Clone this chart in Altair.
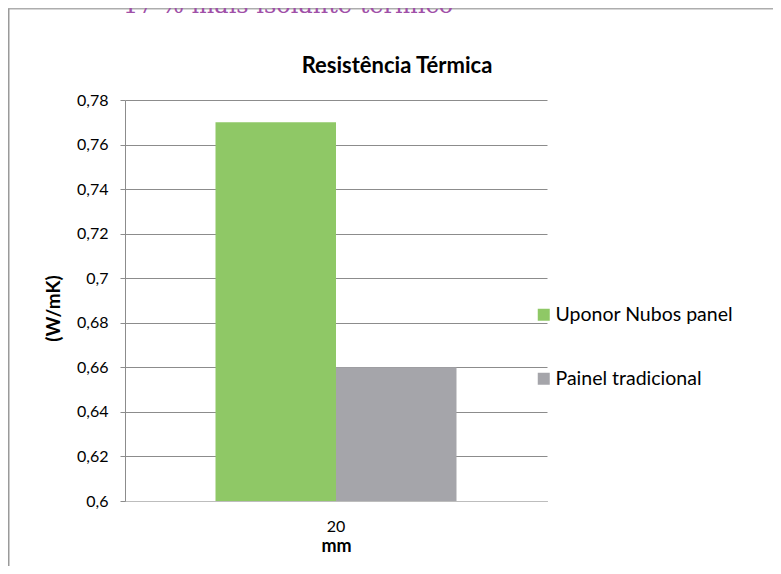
import altair as alt
import pandas as pd

# Data
espessura = ["20"]
series = ["Uponor Nubos panel", "Painel tradicional"]
valores = [0.77, 0.66]
cores = ["#8FC866", "#A5A5AA"]
y_ticks = [0.6, 0.62, 0.64, 0.66, 0.68, 0.7, 0.72, 0.74, 0.76, 0.78]
y_min, y_max = 0.6, 0.78
titulo = "Resistência Térmica"
cabecalho = "17 % mais isolante térmico"

df = pd.DataFrame({
    "espessura": espessura * len(series),
    "serie": series,
    "valor": valores,
})

W, H = 422, 401
PL, PT = 117, 92
TOTAL_W, TOTAL_H = 765, 558

font = "Lato"

bars = alt.Chart(df).mark_bar().encode(
    x=alt.X("espessura:N",
            scale=alt.Scale(paddingInner=0, paddingOuter=0.3755),
            axis=alt.Axis(title="mm", labelAngle=0, ticks=False,
                          domainColor="#BDBDBD", labelFont=font, labelFontSize=16,
                          labelColor="#000000", labelPadding=17,
                          titleFont=font, titleFontSize=18, titleFontWeight="bold",
                          titleColor="#000000", titleY=45, titleBaseline="middle")),
    xOffset=alt.XOffset("serie:N", sort=series,
                        scale=alt.Scale(paddingInner=0, paddingOuter=0)),
    y=alt.Y("valor:Q",
            scale=alt.Scale(domain=[y_min, y_max], nice=False, zero=False),
            axis=alt.Axis(title="(W/mK)", values=y_ticks,
                          labelExpr="replace(format(datum.value, '.2~f'), '.', ',')",
                          grid=True, gridColor="#8C8C8C", domainColor="#8C8C8C",
                          tickColor="#8C8C8C", tickSize=5, labelPadding=12,
                          labelFont=font, labelFontSize=16, labelColor="#000000",
                          titleFont=font, titleFontSize=19, titleFontWeight="bold",
                          titleColor="#000000", titleX=-72, titleY=208,
                          titleAlign="center", titleBaseline="middle")),
    y2=alt.datum(y_min),
    color=alt.Color("serie:N", sort=series,
                    scale=alt.Scale(domain=series, range=cores),
                    legend=alt.Legend(title=None, orient="none", legendX=409, legendY=205,
                                      symbolType="square", symbolSize=144,
                                      symbolStrokeWidth=0, rowPadding=43,
                                      labelFont=font, labelFontSize=19.5, labelLimit=0,
                                      labelColor="#000000", labelOffset=2)),
)

titulo_txt = alt.Chart(pd.DataFrame({"t": [titulo]})).mark_text(
    font=font, fontSize=22, fontWeight="bold", color="#000000",
    align="center", baseline="alphabetic"
).encode(text="t:N", x=alt.value(272), y=alt.value(-27))

cab_txt = alt.Chart(pd.DataFrame({"t": [cabecalho]})).mark_text(
    font="DejaVu Serif", fontSize=24, color="#A050A8",
    align="left", baseline="alphabetic"
).encode(text="t:N", x=alt.value(-2), y=alt.value(-87))

# frame of the original figure (top and left edges only)
borda_top = alt.Chart(pd.DataFrame({"a": [0]})).mark_rule(
    color="#ADADAD", strokeWidth=1.5
).encode(x=alt.value(-117), x2=alt.value(TOTAL_W), y=alt.value(-91.3))

borda_left = alt.Chart(pd.DataFrame({"a": [0]})).mark_rule(
    color="#9A9A9A", strokeWidth=2
).encode(x=alt.value(-116.5), y=alt.value(-91.3), y2=alt.value(TOTAL_H))

# white edges on the right and bottom (the figure continues past the page)
edge_right = alt.Chart(pd.DataFrame({"a": [0]})).mark_rule(
    color="white", strokeWidth=4
).encode(x=alt.value(TOTAL_W - PL - 1), y=alt.value(-89), y2=alt.value(TOTAL_H))

edge_bottom = alt.Chart(pd.DataFrame({"a": [0]})).mark_rule(
    color="white", strokeWidth=4
).encode(x=alt.value(-114), x2=alt.value(TOTAL_W), y=alt.value(TOTAL_H - PT - 1))

chart = alt.layer(borda_top, borda_left, edge_right, edge_bottom, bars, cab_txt, titulo_txt).properties(
    width=W, height=H,
    autosize=alt.AutoSizeParams(type="none"),
    padding={"left": PL, "top": PT, "right": TOTAL_W - PL - W, "bottom": TOTAL_H - PT - H},
).configure_view(stroke=None)

chart.save("out.html", embed_options={"renderer": "svg", "actions": False})
